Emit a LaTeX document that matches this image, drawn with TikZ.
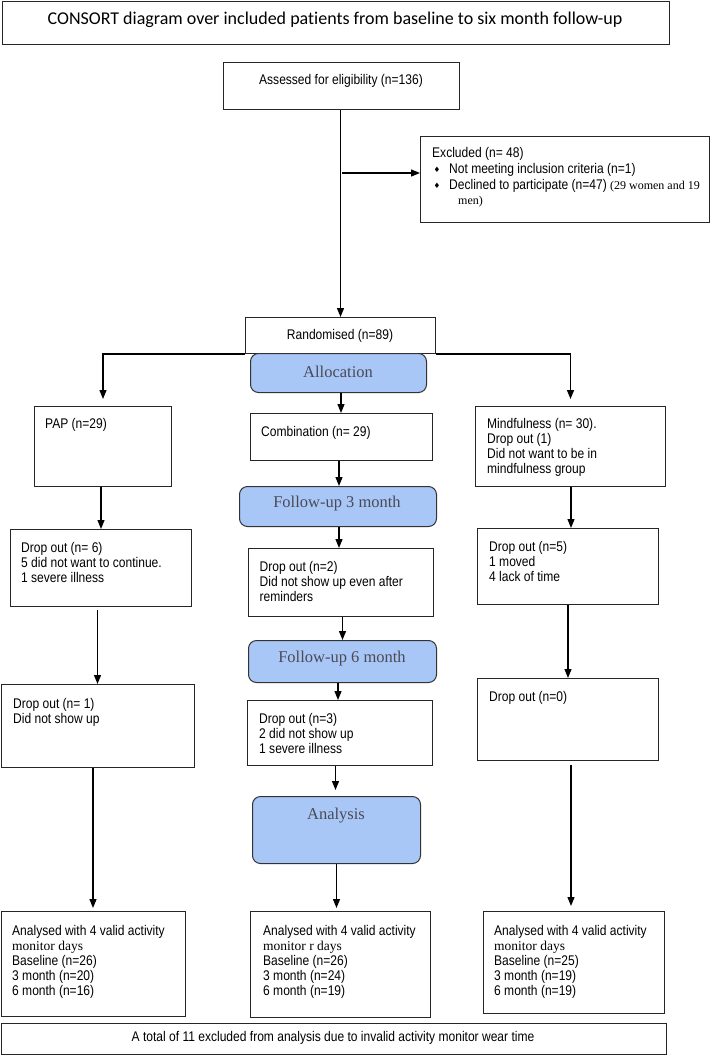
\documentclass[tikz,border=0pt]{standalone}
\usepackage{fontspec}
\setmainfont[FakeStretch=0.86]{Liberation Sans}
\newfontfamily\titlefont[Ligatures=NoCommon]{Carlito}
\newfontfamily\tnr{Liberation Serif}
\newfontfamily\symfont{DejaVu Sans}
\usetikzlibrary{arrows.meta,calc}
\definecolor{phaseblue}{HTML}{A8C7F7}
\definecolor{phasetext}{HTML}{4A4A55}
\tikzset{
  box/.style={draw=black!85, line width=1pt, anchor=north west, inner sep=0pt, fill=white},
  phase/.style={draw=black!80, line width=1pt, fill=phaseblue, rounded corners=8pt, anchor=north west, inner sep=0pt},
  txt/.style={anchor=north west, inner sep=0pt, align=left, font=\fontsize{14}{15}\selectfont},
  ctxt/.style={inner sep=0pt, font=\fontsize{14}{15}\selectfont},
  sertxt/.style={font=\tnr\fontsize{13.5}{15}\selectfont},
  phasetxt/.style={inner sep=0pt, font=\tnr\fontsize{16.5}{20}\selectfont, text=phasetext},
  arr/.style={line width=1.2pt, -{Triangle[length=9pt,width=7pt]}},
}
\begin{document}
\begin{tikzpicture}[x=1pt,y=-1pt]
\useasboundingbox[fill=white] (0,0) rectangle (710,1055);

% title
\node[box, minimum width=667, minimum height=43] (title) at (1.5,0.5) {};
\node[inner sep=0pt, font=\titlefont\fontsize{18}{20}\selectfont] (titletext) at (335,20) {CONSORT diagram over included patients from baseline to six month follow-up};

% enrolment
\node[box, minimum width=236, minimum height=47] (assess) at (223,62) {};
\node[ctxt] (assesstext) at (341,81) {Assessed for eligibility (n=136)};

\node[box, minimum width=289, minimum height=86] (excl) at (420,136) {};
\node[txt] (ex1) at (432,147.5) {Excluded (n= 48)};
\node[inner sep=0pt, font=\symfont\fontsize{7.5}{8}\selectfont] (b1) at (437,170) {♦};
\node[txt] (ex2) at (449,163.5) {Not meeting inclusion criteria (n=1)};
\node[inner sep=0pt, font=\symfont\fontsize{7.5}{8}\selectfont] (b2) at (437,186) {♦};
\node[txt] (ex3) at (449,179.5) {Declined to participate (n=47) {\tnr\fontsize{12}{15}\selectfont (29 women and 19}};
\node[txt, font=\tnr\fontsize{12}{15}\selectfont] (ex4) at (458,196) {men)};

\node[box, minimum width=190, minimum height=36] (rand) at (245,317) {};
\node[ctxt] (randtext) at (340,336) {Randomised (n=89)};

\coordinate (exarr) at (342,173);
\draw[line width=1.2pt] (rand.north |- assess.south) -- (rand.north |- exarr);
\draw[arr] (rand.north |- exarr) -- (rand.north);
\draw[arr] (exarr) -- (excl.west |- exarr);

% allocation
\node[phase, minimum width=176, minimum height=39] (alloc) at (250,353) {};
\node[phasetxt] (alloctext) at (338,372) {Allocation};

\node[box, minimum width=137, minimum height=80] (pap) at (34,406) {};
\node[txt] (paptext) at (45,418) {PAP (n=29)};
\node[box, minimum width=182, minimum height=47] (comb) at (249.5,413) {};
\node[txt] (combtext) at (261,426) {Combination (n= 29)};
\node[box, minimum width=190, minimum height=80] (mind) at (475,406) {};
\node[txt] (mindtext) at (487,418) {Mindfulness (n= 30).\\Drop out (1)\\Did not want to be in\\mindfulness group};

\draw[arr] (rand.south west) -| ($(pap.north)+(0,-7)$);
\draw[arr] (rand.south east) -| ($(mind.north)+(0,-7)$);
\draw[arr] (alloc.south -| comb.north) -- (comb.north);

% follow-up 3 month
\node[phase, minimum width=197, minimum height=40] (fu3) at (239,486) {};
\node[phasetxt] (fu3text) at (337,504) {Follow-up 3 month};

\node[box, minimum width=181, minimum height=77] (do6) at (9.5,529) {};
\node[txt] (do6text) at (21,542) {Drop out (n= 6)\\5 did not want to continue.\\1 severe illness};
\node[box, minimum width=185, minimum height=68] (do2) at (248,548) {};
\node[txt] (do2text) at (259.5,561) {Drop out (n=2)\\Did not show up even after\\reminders};
\node[box, minimum width=181, minimum height=76] (do5) at (477,528) {};
\node[txt] (do5text) at (489,541) {Drop out (n=5)\\1 moved\\4 lack of time};

\draw[arr] (pap.south -| do6.north) ++(0.5,0) -- ($(do6.north)+(0.5,0)$);
\draw[arr] (comb.south -| fu3.north) ++(1,0) -- ($(fu3.north)+(1,0)$);
\draw[arr] (fu3.south -| do2.north) ++(-2,0) -- ($(do2.north)+(-2,0)$);
\draw[arr] (mind.south -| do5.north) ++(3,0) -- ($(do5.north)+(3,0)$);

% follow-up 6 month
\node[phase, minimum width=188, minimum height=42] (fu6) at (248,640) {};
\node[phasetxt] (fu6text) at (342,659) {Follow-up 6 month};

\node[box, minimum width=193, minimum height=83] (do1) at (0.5,684) {};
\node[txt] (do1text) at (13,698) {Drop out (n= 1)\\Did not show up};
\node[box, minimum width=185, minimum height=65] (do3) at (247,700) {};
\node[txt] (do3text) at (259,713) {Drop out (n=3)\\2 did not show up\\1 severe illness};
\node[box, minimum width=181, minimum height=82] (do0) at (477,678) {};
\node[txt] (do0text) at (489,691) {Drop out (n=0)};

\draw[arr] (do6.south -| do1.north) ++(0,3) -- (do1.north);
\draw[arr] (do2.south -| fu6.north) -- (fu6.north);
\draw[arr] (fu6.south -| do3.north) ++(-2,0) -- ($(do3.north)+(-2,0)$);
\draw[arr] (do5.south -| do0.north) -- (do0.north);

% analysis
\node[phase, minimum width=168, minimum height=67] (anal) at (252,796) {};
\node[phasetxt] (analtext) at (336,816) {Analysis};

\node[box, minimum width=184, minimum height=105] (apap) at (0.5,911) {};
\node[txt] (apaptext) at (12,925) {Analysed with 4 valid activity\\{\tnr\fontsize{13.5}{15}\selectfont monitor days}\\Baseline (n=26)\\3 month (n=20)\\6 month (n=16)};
\node[box, minimum width=180, minimum height=106] (acomb) at (250,911) {};
\node[txt] (acombtext) at (263,925) {Analysed with 4 valid activity\\{\tnr\fontsize{13.5}{15}\selectfont monitor r days}\\Baseline (n=26)\\3 month (n=24)\\6 month (n=19)};
\node[box, minimum width=181, minimum height=102] (amind) at (483,911) {};
\node[txt] (amindtext) at (494,925) {Analysed with 4 valid activity\\{\tnr\fontsize{13.5}{15}\selectfont monitor days}\\Baseline (n=25)\\3 month (n=19)\\6 month (n=19)};

\draw[arr] (do1.south -| apap.north) -- ($(apap.north)+(0,-3)$);
\draw[arr] (do3.south -| anal.north) ++(-1,0) -- ($(anal.north)+(-1,-6)$);
\draw[arr] (anal.south -| acomb.north) ++(-4,0) -- ($(acomb.north)+(-4,-3)$);
\draw[arr] (do0.south -| amind.north) ++(-3,4) -- ($(amind.north)+(-3,-5)$);

% bottom
\node[box, minimum width=665, minimum height=31] (total) at (0.5,1023) {};
\node[ctxt] (totaltext) at (333,1038) {A total of 11 excluded from analysis due to invalid activity monitor wear time};
\end{tikzpicture}
\end{document}
